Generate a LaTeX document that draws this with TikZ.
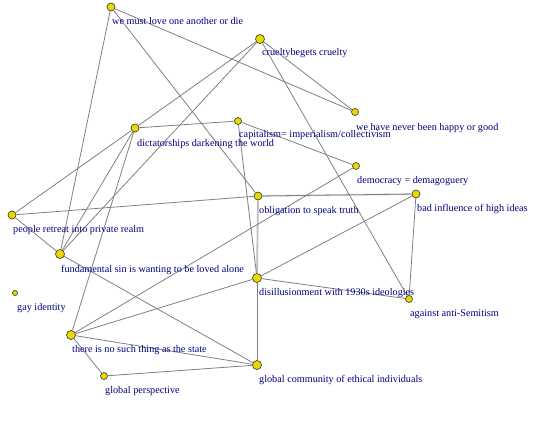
\documentclass[tikz,border=0pt]{standalone}
\usepackage{fontspec}
\setmainfont{Liberation Serif}
\usepackage{xcolor}
\usepackage{tikz}
\definecolor{vfill}{RGB}{232,218,0}
\definecolor{vline}{RGB}{70,70,50}
\definecolor{labtext}{RGB}{0,0,128}
\definecolor{edgegray}{RGB}{128,128,128}

\begin{document}
\begin{tikzpicture}[x=1pt, y=-1pt,
  vert/.style={circle, draw=vline, fill=vfill, line width=0.7pt, inner sep=0pt, minimum size=#1},
  vert/.default=8pt,
  lab/.style={anchor=base west, inner sep=0pt, text=labtext, font=\fontsize{10.2}{12}\selectfont},
  edge/.style={draw=edgegray, line width=0.8pt},
  strong/.style={draw=black!25, line width=1.8pt}]
  \useasboundingbox (0,0) rectangle (533,434);
  % vertices
  \node[vert=8pt] (wl) at (111,7) {};
  \node[vert=9pt] (cb) at (260,39) {};
  \node[vert=7pt] (wh) at (355,112) {};
  \node[vert=8pt] (dd) at (135,128) {};
  \node[vert=7pt] (ci) at (238,121) {};
  \node[vert=7pt] (dm) at (356,166) {};
  \node[vert=8pt] (ot) at (258,196) {};
  \node[vert=8pt] (bi) at (416,194) {};
  \node[vert=8pt] (pr) at (12,215) {};
  \node[vert=9pt] (fs) at (60,254) {};
  \node[vert=5pt] (gi) at (15,293) {};
  \node[vert=9pt] (di) at (257,278) {};
  \node[vert=7pt] (aa) at (409,299) {};
  \node[vert=9pt] (ts) at (71,335) {};
  \node[vert=9pt] (gc) at (257,365) {};
  \node[vert=7pt] (gp) at (104,376) {};
  % edges
  \draw[strong] (ot) -- (di);
  \draw[strong, draw=black!15] (ot) -- (bi);
  \draw[edge] (ot) -- (bi);
  \draw[edge] (wl) -- (wh);
  \draw[edge] (wl) -- (fs);
  \draw[edge] (wl) -- (ot);
  \draw[edge] (cb) -- (wh);
  \draw[edge] (cb) -- (dd);
  \draw[edge] (cb) -- (fs);
  \draw[edge] (cb) -- (aa);
  \draw[edge] (dd) -- (ci);
  \draw[edge] (dd) -- (pr);
  \draw[edge] (dd) -- (fs);
  \draw[edge] (dd) -- (ts);
  \draw[edge] (ci) -- (dm);
  \draw[edge] (ci) -- (di);
  \draw[edge] (pr) -- (ot);
  \draw[edge] (pr) -- (fs);
  \draw[edge] (dm) -- (ts);
  \draw[edge] (bi) -- (di);
  \draw[edge] (bi) -- (aa);
  \draw[edge] (di) -- (aa);
  \draw[edge] (di) -- (ts);
  \draw[edge] (di) -- (gc);
  \draw[edge] (fs) -- (gc);
  \draw[edge] (ts) -- (gc);
  \draw[edge] (ts) -- (gp);
  \draw[edge] (gp) -- (gc);
  % labels
  \node[lab] (wl-l) at (112,24) {we must love one another or die};
  \node[lab] (cb-l) at (262,55) {crueltybegets cruelty};
  \node[lab] (wh-l) at (356,130) {we have never been happy or good};
  \node[lab] (dd-l) at (137,146) {dictatorships darkening the world};
  \node[lab] (ci-l) at (239,137) {capitalism= imperialism/collectivism};
  \node[lab] (dm-l) at (357,183) {democracy = demagoguery};
  \node[lab] (ot-l) at (259,213) {obligation to speak truth};
  \node[lab] (bi-l) at (417,211) {bad influence of high ideas};
  \node[lab] (pr-l) at (13,232) {people retreat into private realm};
  \node[lab] (fs-l) at (61,272) {fundamental sin is wanting to be loved alone};
  \node[lab] (gi-l) at (17,310) {gay identity};
  \node[lab] (di-l) at (259,295) {disillusionment with 1930s ideologies};
  \node[lab] (aa-l) at (410,316) {against anti-Semitism};
  \node[lab] (ts-l) at (72,352) {there is no such thing as the state};
  \node[lab] (gc-l) at (259,382) {global community of ethical individuals};
  \node[lab] (gp-l) at (105,393) {global perspective};
\end{tikzpicture}
\end{document}
